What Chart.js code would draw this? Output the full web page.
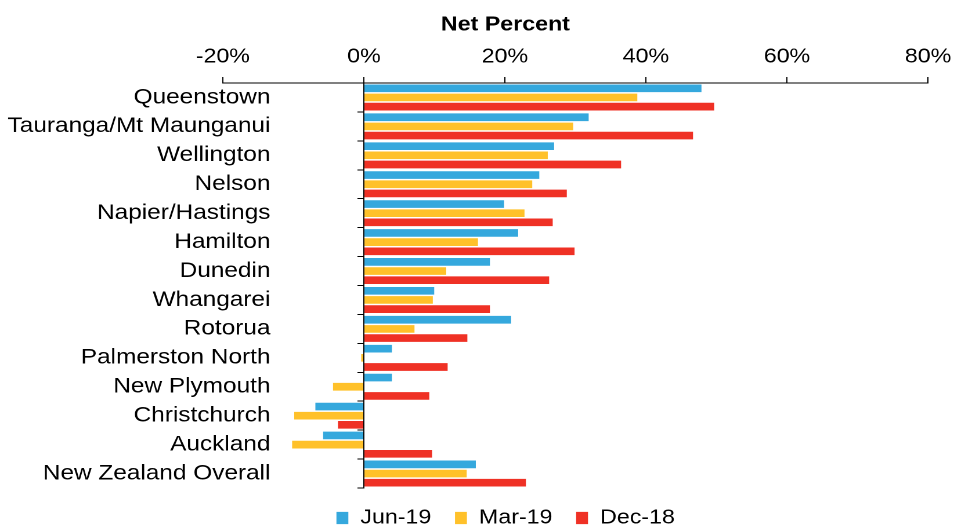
<!DOCTYPE html>
<html lang="en">
<head>
  <meta charset="UTF-8">
  <title>Net Percent by Region</title>
  <script src="https://cdn.jsdelivr.net/npm/chart.js"></script>
  <style>
    html, body {
      margin: 0;
      padding: 0;
      background: #ffffff;
      overflow: hidden;
    }
    /* the original picture is drawn a little wide, so stretch the chart sideways */
    .chart-box {
      width: 822px;
      height: 527px;
      transform: scaleX(1.16058);
      transform-origin: 0 0;
    }
  </style>
</head>
<body>
  <div class="chart-box">
    <canvas id="netChart"></canvas>
  </div>

  <script>
    // Data
    const regions = [
      'Queenstown', 'Tauranga/Mt Maunganui', 'Wellington', 'Nelson',
      'Napier/Hastings', 'Hamilton', 'Dunedin', 'Whangarei', 'Rotorua',
      'Palmerston North', 'New Plymouth', 'Christchurch', 'Auckland',
      'New Zealand Overall'
    ];
    const jun19 = [48.0, 32.0, 27.1, 25.0, 20.0, 22.0, 18.0, 10.1, 21.0, 4.1, 4.1, -7.0, -5.9, 16.0];
    const mar19 = [38.9, 29.8, 26.2, 24.0, 22.9, 16.3, 11.8, 9.9, 7.3, -0.5, -4.5, -10.0, -10.3, 14.7];
    const dec18 = [49.8, 46.8, 36.6, 28.9, 26.9, 30.0, 26.4, 18.0, 14.8, 12.0, 9.4, -3.8, 9.8, 23.1];
    const xTicks = [-20, 0, 20, 40, 60, 80];

    const FONT = "'Liberation Sans', Arial, sans-serif";
    Chart.defaults.font.family = FONT;
    Chart.defaults.font.size = 20;
    Chart.defaults.color = '#000';

    function series(label, data, color) {
      return {
        label: label,
        data: data,
        backgroundColor: color,
        borderColor: '#ffffff',
        borderWidth: 0.75,
        barPercentage: 1.0,
        categoryPercentage: 0.95
      };
    }

    // scales placed inside the plot take no room in the layout
    function noRoom(axis) {
      axis.width = 0;
      axis.paddingTop = 0;
      axis.paddingBottom = 0;
    }

    new Chart(document.getElementById('netChart'), {
      type: 'bar',
      data: {
        labels: regions,
        datasets: [
          series('Jun-19', jun19, '#35a8dd'),
          series('Mar-19', mar19, '#ffc12a'),
          series('Dec-18', dec18, '#ef3125')
        ]
      },
      options: {
        indexAxis: 'y',
        responsive: true,
        maintainAspectRatio: false,
        animation: false,
        devicePixelRatio: 2,
        layout: {
          padding: { left: 49, right: 0, top: 0, bottom: -11 }
        },
        plugins: {
          title: {
            display: true,
            text: 'Net Percent',
            color: '#000',
            font: { size: 20, weight: 'bold' },
            padding: { top: 13, bottom: 0 }
          },
          legend: {
            position: 'bottom',
            labels: {
              boxWidth: 11,
              boxHeight: 13,
              padding: 20,
              color: '#000',
              font: { size: 20 }
            }
          },
          tooltip: { enabled: false }
        },
        scales: {
          x: {
            position: 'top',
            min: -20,
            max: 80,
            afterBuildTicks: function(axis) {
              axis.ticks = xTicks.map(v => ({ value: v }));
            },
            afterFit: function(axis) {
              axis.paddingLeft = 0;
              axis.paddingRight = 22.4;
            },
            ticks: {
              padding: 8,
              callback: v => v + '%'
            },
            grid: {
              drawOnChartArea: false,
              tickLength: 6,
              color: '#000'
            },
            border: { color: '#000', width: 1 }
          },
          // keeps room on the left of the plot
          y: {
            position: 'left',
            afterFit: function(axis) {
              axis.width = 143;
              axis.paddingTop = 0;
              axis.paddingBottom = 0;
            },
            ticks: { display: false },
            grid: { display: false, drawTicks: false },
            border: { display: false }
          },
          // axis line at 0% with tick marks between the regions
          y2: {
            type: 'category',
            axis: 'y',
            position: { x: 0 },
            offset: true,
            afterFit: noRoom,
            ticks: { display: false },
            grid: {
              offset: true,
              drawOnChartArea: false,
              tickLength: 5,
              color: '#000'
            },
            border: { color: '#000', width: 1 }
          },
          // region names, right aligned inside the negative part of the plot
          y3: {
            type: 'category',
            axis: 'y',
            position: { x: -13.25 },
            offset: true,
            afterFit: noRoom,
            ticks: { color: '#000', font: { size: 21 } },
            grid: { display: false, drawTicks: false },
            border: { display: false }
          }
        }
      }
    });
  </script>
</body>
</html>
